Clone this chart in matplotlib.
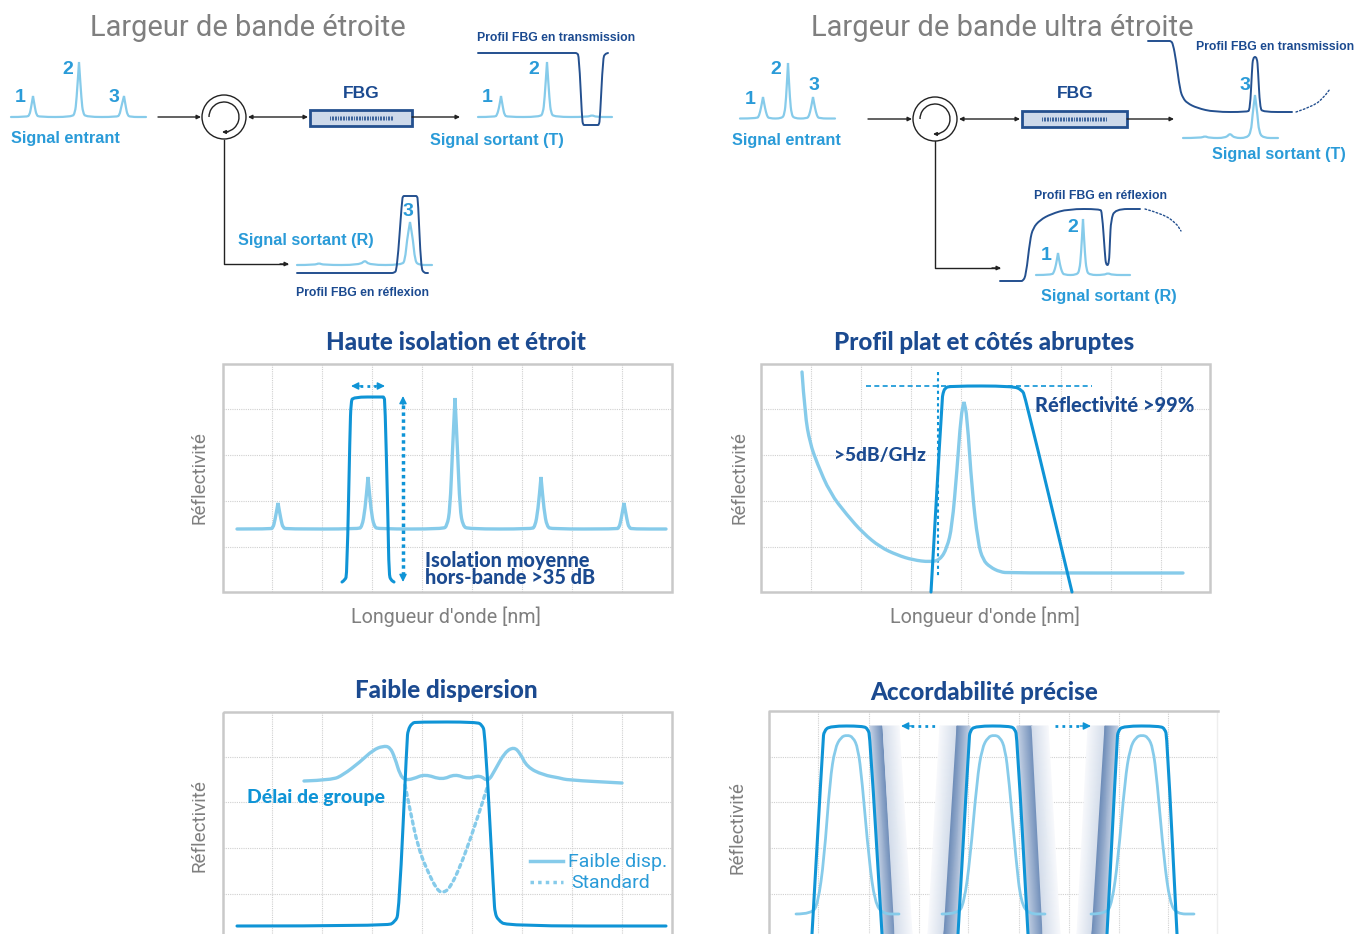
import matplotlib
matplotlib.use('Agg')
import matplotlib.pyplot as plt
from matplotlib.path import Path
from matplotlib.patches import PathPatch, Circle, Arc, Rectangle
from matplotlib.colors import LinearSegmentedColormap
import numpy as np

NAVY = '#1b4a90'
MID = '#0f94d6'
LIGHT = '#86cbea'
TXT = '#2a9bd8'
GREY = '#7f7f7f'
BOX = '#24508f'
NARROW = 'Liberation Sans'
WIDE = 'Lato'

# ---- top left schematic
tl_in = [(11,117),(27,117),(29.5,115),(31,108),(33,96),(33,96),(35,108),(36.5,115),(39,117),(72,117),(75,113),(76.5,100),(79,62),(79,62),(81.5,100),(83,113),(86,117),(117,117),(119.5,115),(121,108),(124,96),(124,96),(126,108),(127.5,115),(130,117),(146,117)]
tl_out_t = [(478,117),(495,117),(497,115),(499,108),(501,96),(501,96),(503,108),(504.5,115),(507,117),(540,117),(543,113),(544.5,100),(547,62),(547,62),(549.5,100),(551,113),(554,117),(588,117),(592,115),(596,117),(612,117)]
tl_prof_t = [(478,53),(574,53),(577,53),(579,56),(582,118),(583,125),(585,125),(597,125),(599,125),(600,118),(603,58),(605,54),(608,53)]
tl_out_r = [(297,265),(315,265),(319,263),(323,265),(360,265),(365,260),(369,265),(402,265),(405,260),(407,240),(410,222),(410,222),(413,240),(415,260),(418,265),(432,265)]
tl_prof_r = [(297,273),(390,273),(394,273),(397,270),(402,200),(403,196),(405,196),(415,196),(417,196),(418,200),(421,268),(424,273),(428,273)]

# ---- top right schematic
tr_in = [(740,118.5),(757,118.5),(759,116),(761,108),(763,97),(763,97),(765,108),(767,116),(769,118.5),(782,118.5),(784.5,114),(786,100),(788,63),(788,63),(790,100),(791.5,114),(794,118.5),(807,118.5),(809,116),(811,108),(813,97),(813,97),(815,108),(817,116),(819,118.5),(835,118.5)]
tr_prof_t = [(1148,41),(1168,41),(1171,41),(1173,44),(1176,60),(1180,90),(1183,98),(1187,103),(1197,108),(1214,112),(1247,112),(1250,110),(1252,70),(1253,57),(1257,57),(1258,70),(1260,108),(1263,112),(1292,112)]
tr_prof_t_dots = [(1296,112),(1314,106),(1324,97),(1330,89)]
tr_out_t = [(1183,138),(1201,138),(1205,136),(1209,138),(1226,138),(1230,133),(1234,138),(1247,138),(1251,132),(1252.5,115),(1255,95),(1255,95),(1257.5,115),(1259,132),(1263,138),(1278,138)]
tr_prof_r = [(1000,281),(1020,281),(1023,281),(1026,275),(1030,240),(1033,228),(1040,220),(1051,214),(1068,209),(1100,209),(1102,212),(1105,255),(1106,265),(1109,265),(1110,240),(1111,220),(1115,209),(1140,209)]
tr_prof_r_dots = [(1145,209),(1163,214),(1176,223),(1181,231)]
tr_out_r = [(1036,275),(1052,275),(1054,272),(1056,265),(1058,253),(1058,253),(1060,265),(1062,272),(1064,275),(1077,275),(1079.5,270),(1081,255),(1083,219),(1083,219),(1085,255),(1086.5,270),(1089,275),(1104,275),(1108,273),(1112,275),(1130,275)]

# ---- panel A
a_signal = [(237,529),(270,529),(273,528),(275,520),(278,503),(278,503),(281,520),(283,528),(287,529),(358,529),(362,527),(365,510),(368,477),(368,477),(371,510),(374,527),(379,529),(443,529),(447,526),(450,510),(452.5,450),(455,398),(455,398),(457.5,450),(460,510),(463,526),(468,529),(531,529),(535,527),(538,510),(541,477),(541,477),(544,510),(547,527),(552,529),(616,529),(619,528),(621,520),(624,503),(624,503),(627,520),(629,528),(633,529),(666,529)]
a_filter = [(342,582),(345,580),(347,575),(350,430),(351,402),(353,397),(382,397),(384,397),(385,402),(388,520),(389,575),(391,580),(394,582)]

# ---- panel B
b_signal = [(802,372),(805,415),(810,443),(817,463),(830,493),(847,515),(863,533),(880,547),(897,555),(913,560),(930,562),(940,560),(947,548),(952,527),(957,470),(961,415),(964,402),(964,402),(967,415),(972,490),(978,543),(983,560),(990,567),(1000,572),(1010,573),(1183,573)]
b_filter = [(931,592),(942,400),(943,393),(945,388),(950,386),(1013,386),(1022,390),(1025,396),(1072,592)]
b_h_dash = [866,1092]
b_v_dash = [372,578]

# ---- panel C
c_filter = [(237,926),(387,926),(395,922),(399,913),(407,740),(408,730),(412,723),(417,722),(477,722),(482,725),(485,732),(494,900),(495,913),(498,920),(507,926),(666,926)]
c_delay = [(304,781),(332,780),(343,775),(360,762),(373,750),(383,746),(390,747),(395,758),(400,775),(405,780),(413,779),(425,774),(442,780),(455,774),(468,779),(480,775),(488,782),(495,770),(505,752),(514,747),(520,753),(527,767),(543,775),(560,778),(567,780),(622,783)]
c_standard = [(405,785),(410,810),(418,847),(427,870),(437,890),(443,893),(450,888),(460,867),(470,840),(480,810),(488,785)]

# ---- panel D
d_filter1 = [(812,934),(823,740),(824,731),(830,726),(863,726),(868,729),(870,737),(882,934)]
d_filter2 = [(958,934),(969,740),(970,731),(975,726),(1010,726),(1015,729),(1017,737),(1028,934)]
d_filter3 = [(1107,934),(1117,740),(1118,731),(1123,726),(1160,726),(1165,729),(1167,737),(1177,934)]
d_bell1 = [(796,914),(812,914),(818,903),(824,860),(830,780),(835,748),(841,737),(847,735),(853,737),(858,748),(862,780),(869,860),(875,903),(883,914),(899,914)]
d_bell2 = [(942,914),(958,914),(964,903),(970,860),(977,780),(982,748),(988,737),(994,735),(1000,737),(1005,748),(1009,780),(1016,860),(1021,903),(1029,914),(1045,914)]
d_bell3 = [(1091,914),(1106,914),(1112,903),(1118,860),(1125,780),(1130,748),(1136,737),(1142,735),(1148,737),(1153,748),(1157,780),(1164,860),(1170,903),(1177,914),(1194,914)]
# x left/right at top, x left/right at bottom, start and end colour
d_bands = [
    (870,882,882,895,'#c8d4e6','#6d8cb8'),
    (883,899,895,912,'#d3dcea','#f8f9fc'),
    (940,957,928,944,'#f8f9fc','#d3dcea'),
    (957,970,944,958,'#6d8cb8','#c8d4e6'),
    (1017,1032,1028,1043,'#c8d4e6','#6d8cb8'),
    (1032,1048,1043,1060,'#d3dcea','#f8f9fc'),
    (1088,1105,1077,1092,'#f8f9fc','#d3dcea'),
    (1105,1118,1092,1107,'#6d8cb8','#c8d4e6'),
]

ab_grid_x = [272,322,372,422,472,522,572,622]
ab_grid_y = [409,455,501,547]
b_grid_x = [811,861,911,961,1011,1061,1111,1161]
low_grid_y = [757,802,848,894]
d_grid_x = [818,869,919,968,1019,1069,1119,1168]


fig = plt.figure(figsize=(13.56, 9.34), dpi=100)
ax = fig.add_axes([0, 0, 1, 1])
ax.set_xlim(0, 1356)
ax.set_ylim(934, 0)
ax.axis('off')


def smooth(points, color, lw, ls='-', z=3):
    # quadratic segments through the midpoints, repeat a point to keep a sharp tip
    verts = [points[0]]
    codes = [Path.MOVETO]
    for i in range(1, len(points) - 1):
        mid = ((points[i][0] + points[i+1][0]) / 2, (points[i][1] + points[i+1][1]) / 2)
        verts += [points[i], mid]
        codes += [Path.CURVE3, Path.CURVE3]
    verts.append(points[-1])
    codes.append(Path.LINETO)
    ax.add_patch(PathPatch(Path(verts, codes), fill=False, edgecolor=color, lw=lw, ls=ls, zorder=z, capstyle='round'))


def label(x, y, s, color=NAVY, size=12, weight='bold', ha='center', family=NARROW, rot=0):
    ax.text(x, y, s, color=color, fontsize=size, fontweight=weight, ha=ha, va='center', family=family, rotation=rot, zorder=6)


def arrow(x0, y0, x1, y1, style='-|>', color='#222222', lw=1.0, scale=6):
    ax.annotate('', xy=(x1, y1), xytext=(x0, y0), zorder=4,
                arrowprops=dict(arrowstyle=style, color=color, lw=lw, mutation_scale=scale, shrinkA=0, shrinkB=0))


def fbg(x0, x1, y0, y1, tx0, tx1):
    ax.add_patch(Rectangle((x0, y0), x1-x0, y1-y0, facecolor='#cdd9ea', edgecolor=BOX, lw=2, zorder=3))
    ax.vlines(np.arange(tx0, tx1, 1.6), (y0+y1)/2-2, (y0+y1)/2+2, color=BOX, lw=0.6, zorder=4)


def circulator(cx, cy):
    ax.add_patch(Circle((cx, cy), 22, fill=True, facecolor='white', edgecolor='#222222', lw=1, zorder=3))
    ax.add_patch(Arc((cx, cy), 30, 30, theta1=180, theta2=440, color='#222222', lw=1, zorder=4))
    arrow(cx+4, cy+15, cx-2, cy+15, scale=5)


def panel(x0, x1, y0, y1, gx, gy):
    ax.vlines(gx, y0, y1, color='#d0d0d0', lw=0.8, ls=(0, (1, 1)), zorder=1)
    ax.hlines(gy, x0, x1, color='#d0d0d0', lw=0.8, ls=(0, (1, 1)), zorder=1)


def frame(x0, x1, y0, y1):
    ax.add_patch(Rectangle((x0, y0), x1-x0, y1-y0, fill=False, edgecolor='#c9c9c9', lw=1.8, zorder=2))


# top titles
label(248, 28, 'Largeur de bande étroite', color=GREY, size=20.9, weight='normal', family='Roboto')
label(1002, 28, 'Largeur de bande ultra étroite', color=GREY, size=21, weight='normal', family='Roboto')

# top left
smooth(tl_in, LIGHT, 1.6)
label(20, 98, '1', TXT, 14)
label(68, 69, '2', TXT, 14)
label(114, 98, '3', TXT, 14)
label(65, 138, 'Signal entrant', TXT, 11.7)
arrow(158, 117, 201, 117)
circulator(224, 117)
arrow(248, 117, 308, 117, '<|-|>')
fbg(310, 412, 109.5, 125.5, 330, 394)
label(361, 93, 'FBG', NAVY, 12.5)
arrow(412, 117, 460, 117)
ax.plot([224, 224, 287], [140, 264, 264], color='#222222', lw=1, zorder=2)
arrow(280, 264, 289, 264)
smooth(tl_out_t, LIGHT, 1.6)
smooth(tl_prof_t, BOX, 1.4)
label(487, 98, '1', TXT, 14)
label(534, 70, '2', TXT, 14)
label(556, 38, 'Profil FBG en transmission', NAVY, 8.8)
label(497, 141, 'Signal sortant (T)', TXT, 11.7)
smooth(tl_out_r, LIGHT, 1.6)
smooth(tl_prof_r, BOX, 1.4)
label(408, 211, '3', TXT, 14)
label(306, 241, 'Signal sortant (R)', TXT, 11.7)
label(362, 293, 'Profil FBG en réflexion', NAVY, 8.8)

# top right
smooth(tr_in, LIGHT, 1.6)
label(750, 100, '1', TXT, 14)
label(776, 70, '2', TXT, 14)
label(814, 86, '3', TXT, 14)
label(786, 140, 'Signal entrant', TXT, 11.7)
arrow(868, 119, 912, 119)
circulator(935, 119)
arrow(959, 119, 1020, 119, '<|-|>')
fbg(1022, 1127, 111, 127, 1042, 1107)
label(1075, 94, 'FBG', NAVY, 12.5)
arrow(1127, 119, 1174, 119)
ax.plot([935, 935, 999], [141, 268, 268], color='#222222', lw=1, zorder=2)
arrow(992, 268, 1001, 268)
smooth(tr_prof_t, BOX, 1.4)
smooth(tr_prof_t_dots, BOX, 1.0, ls=(0, (1.2, 1.6)))
smooth(tr_out_t, LIGHT, 1.6)
label(1275, 47, 'Profil FBG en transmission', NAVY, 8.8)
label(1245, 85, '3', TXT, 14)
label(1279, 155, 'Signal sortant (T)', TXT, 11.7)
smooth(tr_prof_r, BOX, 1.4)
smooth(tr_prof_r_dots, BOX, 1.0, ls=(0, (1.2, 1.6)))
smooth(tr_out_r, LIGHT, 1.6)
label(1101, 196, 'Profil FBG en réflexion', NAVY, 8.8)
label(1046, 255, '1', TXT, 14)
label(1073, 227, '2', TXT, 14)
label(1109, 296, 'Signal sortant (R)', TXT, 11.7)

# panel A
panel(223, 672, 364, 592, ab_grid_x, ab_grid_y)
frame(223, 672, 364, 592)
smooth(a_signal, LIGHT, 2.4)
smooth(a_filter, MID, 2.2)
ax.plot([403, 403], [405, 575], color=MID, lw=2.5, ls=(0, (1, 1)), zorder=3)
arrow(403, 405, 403, 396, color=MID, scale=11)
arrow(403, 574, 403, 582, color=MID, scale=11)
ax.plot([360, 376], [386, 386], color=MID, lw=2, ls=(0, (1, 1.5)), zorder=3)
arrow(362, 386, 351, 386, color=MID, scale=11)
arrow(374, 386, 385, 386, color=MID, scale=11)
label(456, 343, 'Haute isolation et étroit', NAVY, 17.4, family=WIDE, weight=900)
label(425, 560, 'Isolation moyenne', NAVY, 14.3, ha='left', family=WIDE, weight=900)
label(425, 577, 'hors-bande >35 dB', NAVY, 14.3, ha='left', family=WIDE, weight=900)
label(446, 617, "Longueur d'onde [nm]", GREY, 14.2, 'normal', family='Roboto')
label(200, 478, 'Réflectivité', GREY, 13.6, 'normal', family='Roboto', rot=90)

# panel B
panel(761, 1210, 364, 592, b_grid_x, ab_grid_y)
frame(761, 1210, 364, 592)
smooth(b_signal, LIGHT, 2.4)
smooth(b_filter, MID, 2.2)
ax.hlines(386, b_h_dash[0], b_h_dash[1], color=MID, lw=1.2, ls=(0, (3, 2)), zorder=2)
ax.vlines(938, b_v_dash[0], b_v_dash[1], color=MID, lw=1.5, ls=(0, (1.5, 1.5)), zorder=2)
label(984, 343, 'Profil plat et côtés abruptes', NAVY, 17.4, family=WIDE, weight=900)
label(834, 456, '>5dB/GHz', NAVY, 13.7, ha='left', family=WIDE, weight=900)
label(1035, 406, 'Réflectivité >99%', NAVY, 14.4, ha='left', family=WIDE, weight=900)
label(985, 617, "Longueur d'onde [nm]", GREY, 14.2, 'normal', family='Roboto')
label(739, 478, 'Réflectivité', GREY, 13.6, 'normal', family='Roboto', rot=90)

# panel C
panel(223, 672, 712, 960, ab_grid_x, low_grid_y)
frame(223, 672, 712, 960)
smooth(c_delay, LIGHT, 2.4)
smooth(c_standard, LIGHT, 2.4, ls=(0, (1, 1.2)))
smooth(c_filter, MID, 2.2)
ax.plot([530, 563], [861, 861], color=LIGHT, lw=2.5, zorder=3)
ax.plot([530, 563], [882, 882], color=LIGHT, lw=2.5, ls=(0, (1, 1.2)), zorder=3)
label(446, 691, 'Faible dispersion', NAVY, 17.4, family=WIDE, weight=900)
label(247, 798, 'Délai de groupe', MID, 14, ha='left', family=WIDE, weight=900)
label(568, 862, 'Faible disp.', TXT, 14, 'normal', ha='left', family='Roboto')
label(571, 883, 'Standard', TXT, 14, 'normal', ha='left', family='Roboto')
label(200, 826, 'Réflectivité', GREY, 13.6, 'normal', family='Roboto', rot=90)

# panel D
panel(769, 1217, 711, 960, d_grid_x, low_grid_y)
ax.plot([769, 769, 1218], [960, 711, 711], color='#c9c9c9', lw=1.8, zorder=2)
ax.vlines(1217, 711, 934, color='#eeeeee', lw=1, zorder=1)
y_band = np.array([726, 934])
for xa, xb, xc, xd, c0, c1 in d_bands:
    cmap = LinearSegmentedColormap.from_list('band', [c0, c1])
    X = np.array([[xa, xb], [xc, xd]])
    Y = np.array([[y_band[0], y_band[0]], [y_band[1], y_band[1]]])
    ax.pcolormesh(X, Y, np.array([[0, 1], [0, 1]]), cmap=cmap, shading='gouraud', zorder=1.5, vmin=0, vmax=1)
ax.set_xlim(0, 1356)
ax.set_ylim(934, 0)
for bell in (d_bell1, d_bell2, d_bell3):
    smooth(bell, LIGHT, 2.0)
for flt in (d_filter1, d_filter2, d_filter3):
    smooth(flt, MID, 2.2)
ax.plot([911, 937], [726, 726], color=MID, lw=2, ls=(0, (1, 1.5)), zorder=3)
arrow(912, 726, 901, 726, color=MID, scale=11)
ax.plot([1055, 1081], [726, 726], color=MID, lw=2, ls=(0, (1, 1.5)), zorder=3)
arrow(1080, 726, 1091, 726, color=MID, scale=11)
label(984, 693, 'Accordabilité précise', NAVY, 17.4, family=WIDE, weight=900)
label(738, 828, 'Réflectivité', GREY, 13.6, 'normal', family='Roboto', rot=90)

fig.savefig('out.png', dpi=100)
